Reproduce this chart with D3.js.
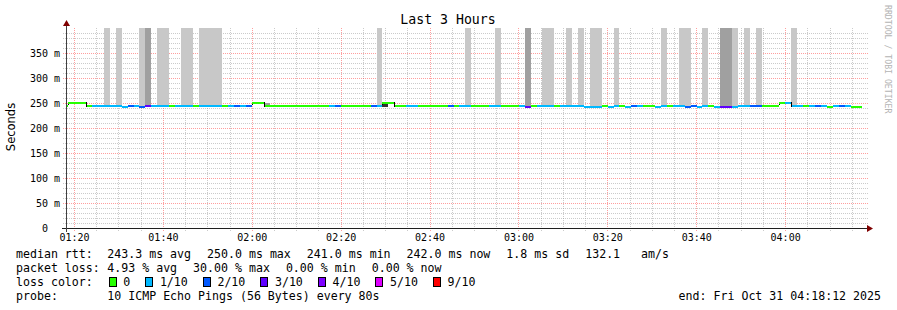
<!DOCTYPE html>
<html>
<head>
<meta charset="utf-8">
<title>Last 3 Hours</title>
<script src="https://cdn.jsdelivr.net/npm/d3@7"></script>
<style>
  body { margin: 0; background: #fff; }
  text { font-family: "DejaVu Sans Mono", monospace; white-space: pre; fill: #000; }
</style>
</head>
<body>
<svg id="chart" width="897" height="310"></svg>
<script>
// rrd steps: one value every 80s, first step begins 01:17:24
const stepStart = "01:17:24";
const stepSecs = 80;
const viewStart = "01:18:12";
const viewEnd = "04:18:12";

// median rtt per step (ms)
const medianMs = [
  243,250,250,250,243,243,243,243,243,243,
  241,243,243,241,243,243,243,243,243,243,
  243,243,243,243,243,243,243,243,243,243,
  243,243,250,250,243,243,243,243,243,243,
  243,243,243,243,243,243,243,243,243,243,
  243,243,243,243,250,250,243,243,243,243,
  243,243,243,243,243,243,243,243,243,243,
  243,243,243,243,243,243,243,243,241,243,
  243,243,243,243,243,243,243,243,241,241,
  241,243,241,243,243,241,243,243,243,243,
  241,243,243,243,243,241,243,241,243,243,
  241,241,241,241,243,243,243,243,243,243,
  243,250,250,243,243,243,243,243,243,242,
  243,243,243,242,242
];

// lost pings per step (out of 10)
const lossCount = [
  0,0,0,0,0,1,1,1,1,1,
  1,2,1,2,3,1,1,1,0,1,
  1,1,0,1,1,1,1,0,1,2,
  1,2,0,0,0,0,0,0,0,0,
  0,0,0,0,0,1,2,0,0,0,
  0,0,2,1,0,0,0,0,1,1,
  0,0,0,0,0,2,0,1,1,0,
  0,0,1,1,0,0,0,1,3,0,
  1,1,1,0,1,1,1,1,1,1,
  1,0,1,1,0,1,2,1,0,0,
  1,1,0,1,1,2,2,1,1,0,
  1,3,3,1,1,1,2,2,0,0,
  0,0,1,1,1,0,1,2,1,0,
  1,2,1,0,0
];

// smoke bands: step index, low / high ms, shade level
const smokeStep  = [7,9,13,14,16,17,20,21,23,24,25,26,34,53,54,68,73,78,81,82,85,87,89,90,93,101,104,105,108,111,112,113,115,117,123];
const smokeLo    = [245,245,245,245,245,245,245,245,245,245,245,245,246,245,242,245,245,245,245,245,245,245,245,245,245,245,245,245,245,245,245,245,245,245,245];
const smokeHi    = [400,400,400,400,400,400,400,400,400,400,400,400,250.5,400,248,400,400,400,400,400,400,400,400,400,400,400,400,400,400,400,400,400,400,400,400];
const smokeShade = [1,1,1,2,1,1,1,1,1,1,1,1,2,1,3,1,1,2,1,1,1,1,1,1,1,1,1,1,1,2,2,1,1,1,1];

const lossLabels = ["0", "1/10", "2/10", "3/10", "4/10", "5/10", "9/10"];
const lossColors = ["#26ff00", "#00b8ff", "#0059ff", "#5e00ff", "#7e00ff", "#dd00ff", "#ff0000"];
const shadeColors = {1: "#c8c8c8", 2: "#a0a0a0", 3: "#333333"};

const timeTicks = ["01:20", "01:40", "02:00", "02:20", "02:40", "03:00", "03:20", "03:40", "04:00"];
const yTicks = [0, 50, 100, 150, 200, 250, 300, 350];

const legendRows = [
  ["median rtt:", "243.3 ms avg", "250.0 ms max", "241.0 ms min", "242.0 ms now", "1.8 ms sd", "132.1   am/s"],
  ["packet loss:", "4.93 % avg", "30.00 % max", "0.00 % min", "0.00 % now"]
];
const probeText = "10 ICMP Echo Pings (56 Bytes) every 80s";
const endText = "end: Fri Oct 31 04:18:12 2025";

const parseT = d3.timeParse("%H:%M:%S");
const parseHM = d3.timeParse("%H:%M");
const t0 = parseT(stepStart);
const stepTime = i => new Date(t0.getTime() + i * stepSecs * 1000);

function lossIdx(n) {
  if (n <= 4) return n;
  if (n <= 8) return 5;
  return 6;
}

const svg = d3.select("#chart");
const x = d3.scaleTime().domain([parseT(viewStart), parseT(viewEnd)]).range([66, 866]);
const y = d3.scaleLinear().domain([0, 400]).range([228, 28]);

svg.append("defs").append("clipPath").attr("id", "plot")
  .append("rect").attr("x", 67).attr("y", 28).attr("width", 800).attr("height", 200);

// grid
const grid = svg.append("g").attr("shape-rendering", "crispEdges");
const minorGray = "rgba(140,140,140,0.45)";
const majorRed = "rgba(255,40,40,0.45)";
const fiveMin = x.ticks(d3.timeMinute.every(5));
grid.selectAll(".vg").data(fiveMin).join("line")
  .attr("x1", d => Math.round(x(d)) + 0.5).attr("x2", d => Math.round(x(d)) + 0.5)
  .attr("y1", 28).attr("y2", 231)
  .attr("stroke", d => d.getMinutes() % 20 === 0 ? majorRed : minorGray)
  .attr("stroke-dasharray", "1,1");
const tenMs = d3.range(10, 400, 10);
grid.selectAll(".hg").data(tenMs).join("line")
  .attr("x1", 63).attr("x2", 868)
  .attr("y1", d => Math.round(y(d)) + 0.5).attr("y2", d => Math.round(y(d)) + 0.5)
  .attr("stroke", d => d % 50 === 0 ? majorRed : minorGray)
  .attr("stroke-dasharray", "1,1");

// smoke
const plot = svg.append("g").attr("clip-path", "url(#plot)").attr("shape-rendering", "crispEdges");
plot.selectAll(".smoke").data(smokeStep).join("rect")
  .attr("x", d => Math.round(x(stepTime(d))))
  .attr("width", d => Math.round(x(stepTime(d + 1))) - Math.round(x(stepTime(d))))
  .attr("y", (d, k) => Math.round(y(smokeHi[k])))
  .attr("height", (d, k) => Math.round(y(smokeLo[k])) - Math.round(y(smokeHi[k])))
  .attr("fill", (d, k) => shadeColors[smokeShade[k]]);

// median line coloured by loss
const steps = d3.range(medianMs.length);
plot.selectAll(".med").data(steps).join("line")
  .attr("x1", i => Math.round(x(stepTime(i))))
  .attr("x2", i => Math.round(x(stepTime(i + 1))))
  .attr("y1", i => Math.floor(y(medianMs[i])))
  .attr("y2", i => Math.floor(y(medianMs[i])))
  .attr("stroke", i => lossColors[lossIdx(lossCount[i])])
  .attr("stroke-width", 2);

// black risers where median jumps
const jumps = steps.filter(i => i > 0 && Math.abs(medianMs[i] - medianMs[i - 1]) >= 4);
plot.selectAll(".jump").data(jumps).join("line")
  .attr("x1", i => Math.round(x(stepTime(i))) + 0.5)
  .attr("x2", i => Math.round(x(stepTime(i))) + 0.5)
  .attr("y1", i => Math.floor(y(medianMs[i - 1])) - 1)
  .attr("y2", i => Math.floor(y(medianMs[i])) + 1)
  .attr("stroke", "#000").attr("stroke-width", 1);

// axes
const xAxis = d3.axisBottom(x)
  .tickValues(timeTicks.map(parseHM).map(d => { const t = parseT("00:00:00"); t.setHours(d.getHours(), d.getMinutes()); return t; }))
  .tickFormat(d3.timeFormat("%H:%M"))
  .tickSize(0).tickPadding(6);
const gx = svg.append("g").attr("transform", "translate(0,228)").call(xAxis);
gx.select(".domain").remove();
gx.selectAll("text").attr("font-family", "DejaVu Sans Mono").attr("font-size", 10).attr("fill", "#000");

const yAxis = d3.axisLeft(y).tickValues(yTicks)
  .tickFormat(d => d === 0 ? "0  " : d + " m")
  .tickSize(0).tickPadding(6);
const gy = svg.append("g").attr("transform", "translate(66,0)").call(yAxis);
gy.select(".domain").remove();
gy.selectAll("text").attr("font-family", "DejaVu Sans Mono").attr("font-size", 10).attr("fill", "#000")
  .attr("xml:space", "preserve");

svg.append("line").attr("x1", 62).attr("x2", 868).attr("y1", 228.5).attr("y2", 228.5)
  .attr("stroke", "#202020").attr("shape-rendering", "crispEdges");
svg.append("line").attr("x1", 66.5).attr("x2", 66.5).attr("y1", 232).attr("y2", 26)
  .attr("stroke", "#404040").attr("shape-rendering", "crispEdges");
svg.append("path").attr("d", "M867,225 L873,228.5 L867,232 Z").attr("fill", "#7f0000");
svg.append("path").attr("d", "M63,26 L66.5,20 L70,26 Z").attr("fill", "#7f0000");

// titles
svg.append("text").attr("x", 448).attr("y", 24.3).attr("text-anchor", "middle")
  .attr("font-size", 13.2).text("Last 3 Hours");
svg.append("text").attr("transform", "translate(15,127) rotate(-90)").attr("text-anchor", "middle")
  .style("font-family", "'DejaVu Sans', sans-serif").attr("font-size", 11.5).text("Seconds");
svg.append("text").attr("transform", "translate(885,5) rotate(90)")
  .attr("font-size", 8.2).style("fill", "#b4b4b4").text("RRDTOOL / TOBI OETIKER");

// legend
const fs = 11.6, col = 107.3, gap = 16;
const rowBase = [258.3, 272.3, 286.3, 300.3];
legendRows.forEach((row, r) => {
  svg.append("text").attr("x", 16).attr("y", rowBase[r]).attr("font-size", fs).text(row[0]);
  let cx = col;
  row.slice(1).forEach(s => {
    const t = svg.append("text").attr("x", cx).attr("y", rowBase[r]).attr("font-size", fs).text(s);
    cx += t.node().getComputedTextLength() + gap;
  });
});
svg.append("text").attr("x", 16).attr("y", rowBase[2]).attr("font-size", fs).text("loss color:");
let bx = 108.7;
lossLabels.forEach((lab, k) => {
  svg.append("rect").attr("x", Math.round(bx) + 0.5).attr("y", 277.5).attr("width", 7).attr("height", 9)
    .attr("fill", lossColors[k]).attr("stroke", "#000").attr("shape-rendering", "crispEdges");
  const t = svg.append("text").attr("x", bx + 14.6).attr("y", rowBase[2]).attr("font-size", fs).text(lab);
  bx = bx + 14.6 + t.node().getComputedTextLength() + 15;
});
svg.append("text").attr("x", 16).attr("y", rowBase[3]).attr("font-size", fs).text("probe:");
svg.append("text").attr("x", col).attr("y", rowBase[3]).attr("font-size", fs).text(probeText);
svg.append("text").attr("x", 881).attr("y", rowBase[3]).attr("text-anchor", "end").attr("font-size", fs).text(endText);
</script>
</body>
</html>
